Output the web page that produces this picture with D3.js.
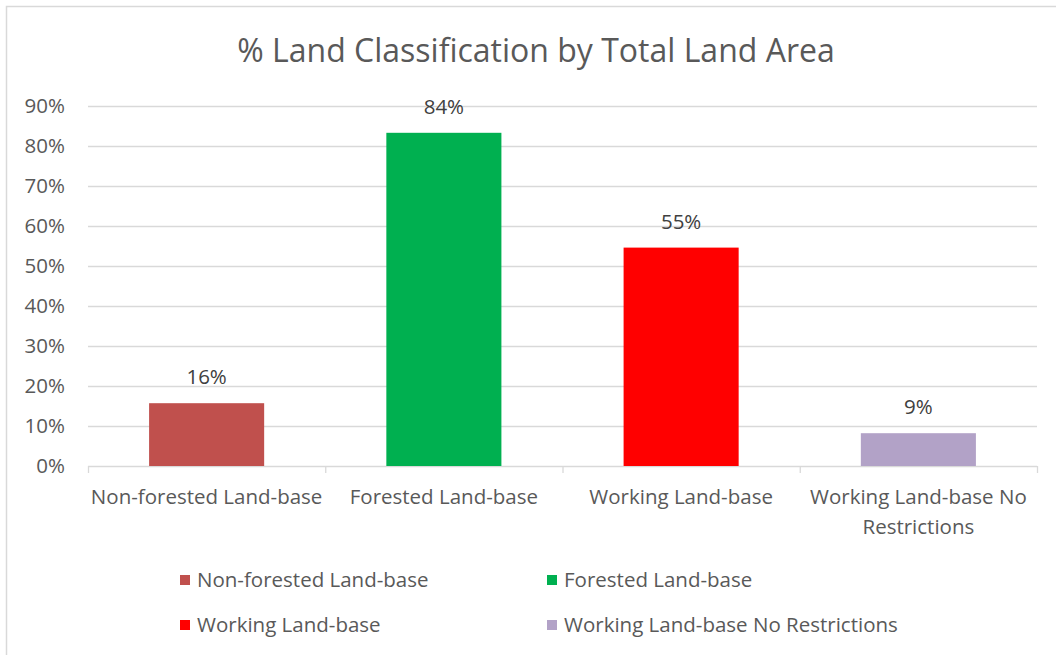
<!DOCTYPE html>
<html>
<head>
<meta charset="utf-8">
<script src="https://cdn.jsdelivr.net/npm/d3@7"></script>
<style>
  body { margin: 0; background: #fff; }
  svg { display: block; font-family: "Open Sans", sans-serif; }
</style>
</head>
<body>
<svg id="chart" width="1056" height="655"></svg>
<script>
// ---- Dados
const categories = ['Non-forested Land-base', 'Forested Land-base', 'Working Land-base', 'Working Land-base No Restrictions'];
const values = [15.7, 83.3, 54.6, 8.2];
const valueLabels = ['16%', '84%', '55%', '9%'];
const colors = ['#C0504D', '#00B050', '#FF0000', '#B2A2C7'];
const yTicks = [0, 10, 20, 30, 40, 50, 60, 70, 80, 90];
const title = '% Land Classification by Total Land Area';

const svg = d3.select('#chart');
const textColor = '#595959';
const fontSize = '20.5px';

// ---- Borda do gráfico
svg.append('rect')
    .attr('x', 6.5).attr('y', 6.5)
    .attr('width', 1100).attr('height', 700)
    .attr('fill', 'none')
    .attr('stroke', '#D9D9D9')
    .attr('stroke-width', 1.5);

const margens = { left: 88, right: 19, top: 106, bottom: 189 };
const width = 1056 - margens.left - margens.right;
const height = 655 - margens.top - margens.bottom;

// ---- Escalas
const mapX = d3.scaleBand().domain(categories).range([0, width]).paddingInner(0.515).paddingOuter(0.2575);
const mapY = d3.scaleLinear().domain([0, 90]).range([height, 0]);

const g = svg.append('g').attr('transform', `translate(${margens.left}, ${margens.top})`);

// ---- Título
svg.append('text')
    .attr('x', 536).attr('y', 62)
    .attr('text-anchor', 'middle')
    .attr('fill', textColor)
    .style('font-size', '32px')
    .text(title);

// ---- Grade
g.selectAll('.grid')
    .data(yTicks.filter(d => d > 0))
    .join('line')
    .attr('class', 'grid')
    .attr('x1', 0).attr('x2', width)
    .attr('y1', d => mapY(d) + 0.5).attr('y2', d => mapY(d) + 0.5)
    .attr('stroke', '#D9D9D9')
    .attr('stroke-width', 1.3);

// ---- Eixo Y
const yAxis = d3.axisLeft(mapY).tickValues(yTicks).tickSize(0).tickPadding(23).tickFormat(d => d + '%');
g.append('g')
    .call(yAxis)
    .call(a => a.select('.domain').remove())
    .call(a => a.selectAll('text')
        .attr('fill', textColor)
        .style('font-size', fontSize)
        .style('font-family', '"Open Sans", sans-serif'));

// ---- Eixo X
g.append('line')
    .attr('x1', 0).attr('x2', width)
    .attr('y1', height + 0.5).attr('y2', height + 0.5)
    .attr('stroke', '#D9D9D9')
    .attr('stroke-width', 1.3);

const boundaries = d3.range(categories.length + 1).map(i => i * mapX.step());
g.selectAll('.tick-x')
    .data(boundaries)
    .join('line')
    .attr('class', 'tick-x')
    .attr('x1', d => d + 0.5).attr('x2', d => d + 0.5)
    .attr('y1', height).attr('y2', height + 7)
    .attr('stroke', '#D9D9D9')
    .attr('stroke-width', 1.3);

// ---- Barras
g.selectAll('.bar')
    .data(values)
    .join('rect')
    .attr('class', 'bar')
    .attr('x', (d, i) => mapX(categories[i]))
    .attr('y', d => mapY(d))
    .attr('width', mapX.bandwidth())
    .attr('height', d => height - mapY(d))
    .attr('fill', (d, i) => colors[i]);

// ---- Rótulos de dados
g.selectAll('.label')
    .data(values)
    .join('text')
    .attr('class', 'label')
    .attr('x', (d, i) => mapX(categories[i]) + mapX.bandwidth() / 2)
    .attr('y', d => mapY(d) - 19)
    .attr('text-anchor', 'middle')
    .attr('fill', '#404040')
    .style('font-size', fontSize)
    .text((d, i) => valueLabels[i]);

// ---- Rótulos de categoria (quebra em duas linhas se for longo)
const catLines = [['Non-forested Land-base'], ['Forested Land-base'], ['Working Land-base'], ['Working Land-base No', 'Restrictions']];
g.selectAll('.cat')
    .data(categories)
    .join('text')
    .attr('class', 'cat')
    .attr('x', d => mapX(d) + mapX.bandwidth() / 2)
    .attr('y', height + 38)
    .attr('text-anchor', 'middle')
    .attr('fill', textColor)
    .style('font-size', fontSize)
    .each(function (d, i) {
        d3.select(this).selectAll('tspan')
            .data(catLines[i])
            .join('tspan')
            .attr('x', mapX(d) + mapX.bandwidth() / 2)
            .attr('dy', (t, j) => j === 0 ? 0 : 30)
            .text(t => t);
    });

// ---- Legenda
const legendPos = [[180, 580], [547, 580], [180, 625], [547, 625]];
const legend = svg.selectAll('.legend')
    .data(categories)
    .join('g')
    .attr('class', 'legend')
    .attr('transform', (d, i) => `translate(${legendPos[i][0]}, ${legendPos[i][1]})`);

legend.append('rect')
    .attr('x', 0).attr('y', -5)
    .attr('width', 10).attr('height', 10)
    .attr('fill', (d, i) => colors[i]);

legend.append('text')
    .attr('x', 17).attr('y', 7)
    .attr('fill', textColor)
    .style('font-size', fontSize)
    .text(d => d);
</script>
</body>
</html>
